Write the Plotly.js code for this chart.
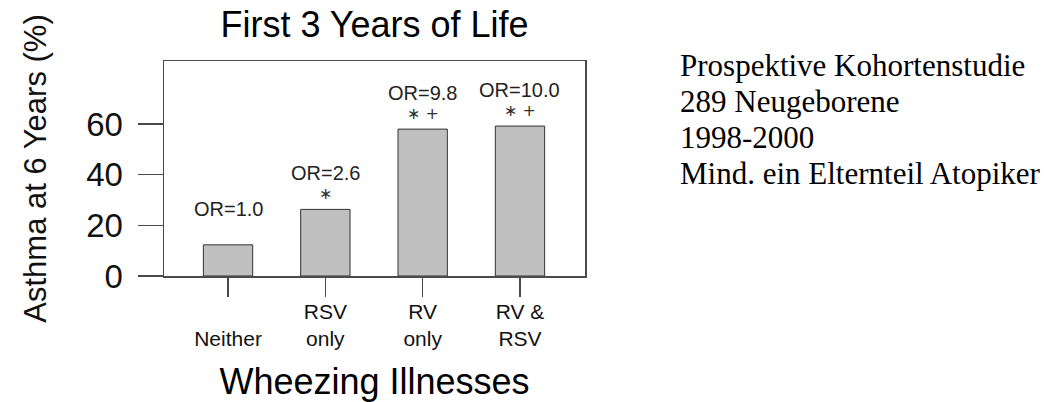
<!DOCTYPE html>
<html><head><meta charset="utf-8">
<script src="https://cdn.plot.ly/plotly-3.0.1.min.js"></script>
<style>html,body{margin:0;padding:0;background:#fff;} #chart{width:1055px;height:402px;}</style>
</head><body><div id="chart"></div>
<script>
// ---- data ----
const categories = ["Neither", "RSV only", "RV only", "RV & RSV"];
const tickLabels = [" <br>Neither", "RSV<br>only", "RV<br>only", "RV &<br>RSV"];
const asthmaPct = [12.3, 26.3, 58.0, 59.2];
const oddsRatioLabels = ["OR=1.0", "OR=2.6", "OR=9.8", "OR=10.0"];
const significanceLabels = ["", "\u2217", "\u2217 +", "\u2217 +"];
const yTicks = [0, 20, 40, 60];
const noteLines = ["Prospektive Kohortenstudie", "289 Neugeborene", "1998-2000", "Mind. ein Elternteil Atopiker"];

// ---- styling ----
const SANS = "Liberation Sans, Arial, Helvetica, sans-serif";
const SERIF = "Liberation Serif, Times New Roman, serif";
const LINE = "#4a4a4a";
const W = 1055, H = 402;
const M = {l: 164, r: 470, t: 61, b: 126};
const plotH = H - M.t - M.b, plotW = W - M.l - M.r;

const trace = {
  type: "bar",
  x: categories,
  y: asthmaPct,
  marker: {color: "#c0c0c0", line: {color: "#333333", width: 1}},
  hoverinfo: "x+y"
};

const annotations = [];
categories.forEach((c, i) => {
  annotations.push({x: c, y: asthmaPct[i], xref: "x", yref: "y", text: oddsRatioLabels[i],
    showarrow: false, yanchor: "middle", yshift: 36, font: {family: SANS, size: 20, color: "#222"}});
  if (significanceLabels[i]) {
    annotations.push({x: c, y: asthmaPct[i], xref: "x", yref: "y", text: significanceLabels[i],
      showarrow: false, yanchor: "middle", yshift: 16, font: {family: "DejaVu Sans, sans-serif", size: 16, color: "#333"}});
  }
});
noteLines.forEach((t, i) => {
  const py = 65 + 36.2 * i;
  annotations.push({x: (678 - M.l) / plotW, y: (H - M.b - py) / plotH, xref: "paper", yref: "paper",
    text: t, showarrow: false, xanchor: "left", yanchor: "middle", align: "left",
    font: {family: SERIF, size: 31, color: "#000"}});
});

const layout = {
  width: W, height: H,
  margin: M,
  paper_bgcolor: "#fff", plot_bgcolor: "#fff",
  showlegend: false,
  bargap: 0.493,
  font: {family: SANS, color: "#000"},
  title: {text: "First 3 Years of Life", x: 0.5, xref: "paper", y: 1 - 24 / H, yref: "container",
    yanchor: "middle", xanchor: "center", font: {family: SANS, size: 36, color: "#000"}},
  xaxis: {
    type: "category", range: [-0.658, 3.668], tickvals: categories, ticktext: tickLabels,
    showline: true, mirror: true, linecolor: LINE, linewidth: 1.5,
    ticks: "outside", ticklen: 19, tickcolor: LINE, tickwidth: 1.2,
    tickfont: {family: SANS, size: 21, color: "#111"},
    ticklabelstandoff: -3,
    showgrid: false, zeroline: false, fixedrange: true,
    title: {text: "Wheezing Illnesses", standoff: 22, font: {family: SANS, size: 36, color: "#000"}}
  },
  yaxis: {
    range: [0, 84.9], tickvals: yTicks, ticktext: yTicks.map(String),
    showline: true, mirror: true, linecolor: LINE, linewidth: 1.5,
    ticks: "outside", ticklen: 25, tickcolor: LINE, tickwidth: 1.2,
    tickfont: {family: SANS, size: 33, color: "#111"},
    ticklabelstandoff: 8,
    showgrid: false, zeroline: false, fixedrange: true,
    title: {text: "Asthma at 6 Years (%)", standoff: 30, font: {family: SANS, size: 31, color: "#111"}}
  },
  annotations: annotations
};

Plotly.newPlot("chart", [trace], layout, {displayModeBar: false, staticPlot: true});
</script></body></html>
